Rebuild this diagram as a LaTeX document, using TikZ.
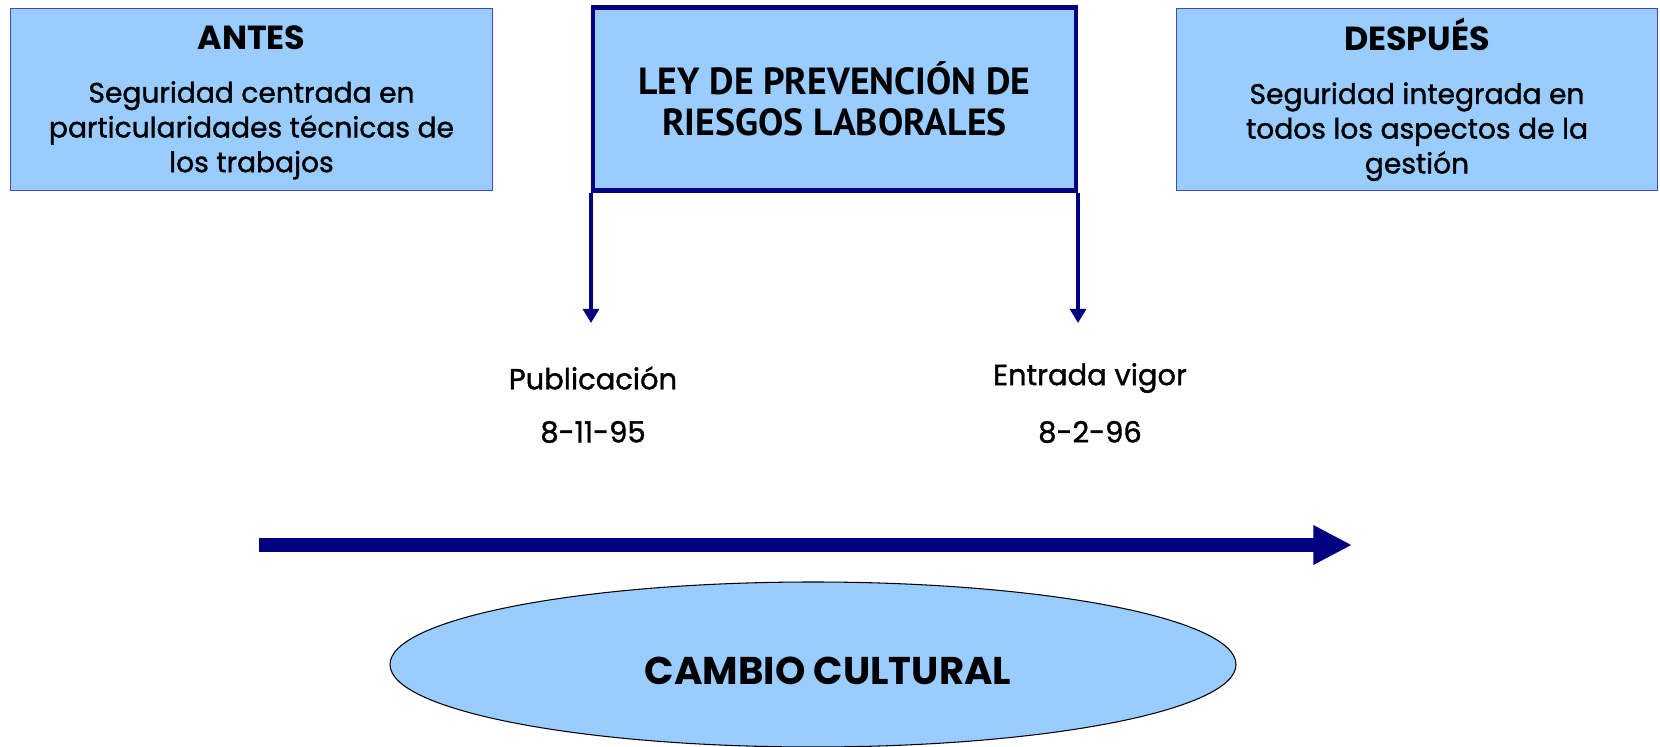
\documentclass[tikz,border=0pt]{standalone}
\usepackage{fontspec}
\setmainfont{Poppins}
\newfontfamily\mediumfont{Poppins}[FakeBold=1.3]
\newfontfamily\narrowfont{PT Sans}
\usepackage{tikz}
\usetikzlibrary{shapes.geometric,arrows.meta}
\definecolor{lrblue}{RGB}{153,204,255}
\definecolor{lrnavy}{RGB}{0,0,128}
\definecolor{lrframe}{RGB}{70,70,200}

\begin{document}
\begin{tikzpicture}[
    sidebox/.style={draw=lrframe, line width=0.8pt, fill=lrblue,
      minimum width=9.63cm, minimum height=3.64cm, inner sep=0pt},
    boxtext/.style={align=center, inner sep=0pt,
      font=\mediumfont\fontsize{16}{19.8}\selectfont},
    lawbox/.style={draw=lrnavy, line width=2.3pt, fill=lrblue, align=center,
      minimum width=9.66cm, minimum height=3.66cm, inner sep=0pt,
      font=\narrowfont\bfseries\fontsize{21.5}{23}\selectfont},
    datelabel/.style={font=\mediumfont\fontsize{16.5}{18}\selectfont},
    downarrow/.style={lrnavy, line width=2.3pt, -{Triangle[width=9pt,length=8pt]}},
    timearrow/.style={lrnavy, line width=7.4pt, -{Triangle[width=21pt,length=22pt]}},
    culture/.style={ellipse, draw=black, line width=0.6pt, fill=lrblue,
      minimum width=16.92cm, minimum height=3.3cm, inner sep=0pt},
    culturetext/.style={font=\bfseries\fontsize{22}{24}\selectfont}
  ]
  \useasboundingbox (0,0) rectangle (33.2,14.92);

  % Before and after
  \node[sidebox] (antes) at (5.03,12.93) {};
  \node[boxtext] (antestexto) at ([yshift=-0.06cm]antes.center)
    {{\normalfont\bfseries\fontsize{19}{22}\selectfont ANTES}\\[10.5pt]
     Seguridad centrada en\\ particularidades técnicas de\\ los trabajos};
  \node[sidebox] (despues) at (28.34,12.93) {};
  \node[boxtext] (despuestexto) at ([yshift=0.0cm]despues.center)
    {{\normalfont\bfseries\fontsize{19}{22}\selectfont DESPUÉS}\\[10.5pt]
     Seguridad integrada en\\ todos los aspectos de la\\ gestión};

  % The law
  \node[lawbox] (ley) at (16.69,12.94)
    {LEY DE PREVENCIÓN DE\\ RIESGOS LABORALES};

  % Dates
  \node[datelabel] (publicacion) at (11.86,7.36) {Publicación};
  \node[datelabel] (fechapub) at (11.86,6.28) {8-11-95};
  \node[datelabel] (vigor) at (21.8,7.36) {Entrada vigor};
  \node[datelabel] (fechavigor) at (21.8,6.28) {8-2-96};

  \coordinate (pubtip) at (ley.south west |- 0,8.46);
  \coordinate (vigortip) at (ley.south east |- 0,8.46);
  \draw[downarrow] (ley.south west) -- (pubtip);
  \draw[downarrow] (ley.south east) -- (vigortip);

  % Time line
  \coordinate (inicio) at (5.18,4.02);
  \coordinate (fin) at (27.04,4.02);
  \draw[timearrow] (inicio) -- (fin);

  % Cultural change
  \node[culture] (cambio) at (16.26,1.63) {};
  \node[culturetext] (cambiotexto) at ([xshift=0.3cm,yshift=-0.12cm]cambio.center)
    {CAMBIO CULTURAL};
\end{tikzpicture}
\end{document}
